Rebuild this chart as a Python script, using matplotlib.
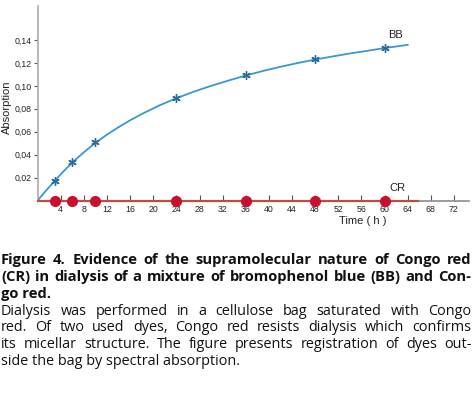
import matplotlib
matplotlib.use("Agg")
import matplotlib.pyplot as plt
from matplotlib.ticker import FixedLocator

W, H, DPI = 472, 395, 100

# BB (bromophenol blue) measured points
bb_t = [3, 6, 10, 24, 36, 48, 60]
bb_abs = [0.0171, 0.0336, 0.0507, 0.0891, 0.1095, 0.1231, 0.1333]

# BB drawn curve
curve_t = [0, 1.5, 3, 4.5, 6, 8, 10, 12, 14, 16, 18, 21, 24, 27, 30, 33,
           36, 39, 42, 45, 48, 51, 54, 57, 60, 62, 64]
curve_abs = [0.0, 0.0090, 0.0174, 0.0256, 0.0332, 0.0421, 0.0503, 0.0575,
             0.0640, 0.0700, 0.0754, 0.0828, 0.0892, 0.0949, 0.1000, 0.1046,
             0.1090, 0.1130, 0.1166, 0.1199, 0.1229, 0.1256, 0.1282, 0.1305,
             0.1329, 0.1343, 0.1357]

# CR (Congo red) measured points - stays at zero
cr_t = [3, 6, 10, 24, 36, 48, 60]
cr_abs = [0, 0, 0, 0, 0, 0, 0]
cr_line_t = [0, 65.7]
cr_line_abs = [0, 0]

y_ticks = [0.02, 0.04, 0.06, 0.08, 0.10, 0.12, 0.14]
y_labels = ["0,02", "0,04", "0,06", "0,08", "0,10", "0,12", "0,14"]
x_ticks = list(range(4, 73, 4))

caption_bold = [
    "Figure 4. Evidence of the supramolecular nature of Congo red",
    "(CR) in dialysis of a mixture of bromophenol blue (BB) and Con-",
    "go red.",
]
caption_text = [
    "Dialysis was performed in a cellulose bag saturated with Congo",
    "red. Of two used dyes, Congo red resists dialysis which confirms",
    "its micellar structure. The figure presents registration of dyes out-",
    "side the bag by spectral absorption.",
]

fig = plt.figure(figsize=(W / DPI, H / DPI), dpi=DPI)

# axes placed in pixels of the reference
ax_l, ax_r, ax_b, ax_t = 37.6, 469.0, 200.6, 5.5
ax = fig.add_axes([ax_l / W, 1 - ax_b / H, (ax_r - ax_l) / W, (ax_b - ax_t) / H])
ax.set_xlim(0, 74.6)
ax.set_ylim(0, 0.17)

for s in ["top", "right"]:
    ax.spines[s].set_visible(False)
ax.spines["left"].set_color("#b5b0aa")
ax.spines["left"].set_linewidth(1.3)
ax.spines["bottom"].set_color("#8c8c8c")
ax.spines["bottom"].set_linewidth(1.2)

ax.plot(curve_t, curve_abs, color="#3a98cc", lw=1.3, zorder=3)
ax.plot(bb_t, bb_abs, ls="none", marker=(6, 2, 0), ms=6, mew=1.0,
        color="#2a6b9c", zorder=4)
ax.plot(cr_line_t, cr_line_abs, color="#c24a40", lw=1.6, zorder=3,
        clip_on=False)
ax.plot(cr_t, cr_abs, ls="none", marker="o", ms=7, color="#c8102e",
        mec="#c8102e", zorder=5, clip_on=False)

ax.yaxis.set_major_locator(FixedLocator(y_ticks))
ax.set_yticklabels(y_labels)
ax.tick_params(axis="y", direction="out", length=3, width=0.8, colors="#555555",
               labelsize=6.3, pad=1, labelcolor="#222222")
ax.xaxis.set_major_locator(FixedLocator(x_ticks))
ax.set_xticklabels([str(v) for v in x_ticks])
ax.tick_params(axis="x", direction="in", length=4, width=0.8, colors="#555555",
               labelsize=6.3, pad=3, labelcolor="#222222")
for lab in ax.get_xticklabels() + ax.get_yticklabels():
    lab.set_family("Liberation Sans")

ax.set_ylabel("Absorption", fontsize=8, family="Liberation Sans",
              color="#222222")
ax.yaxis.set_label_coords(-0.060, 0.48)
ax.text(56.3, -0.0178, "Time ( h )", fontsize=8, family="Liberation Sans",
        ha="center", va="center", color="#222222")
ax.text(60.6, 0.1443, "BB", fontsize=8, family="Liberation Sans",
        ha="left", va="center", color="#222222")
ax.text(60.8, 0.011, "CR", fontsize=8, family="Liberation Sans",
        ha="left", va="center", color="#222222")

# caption, justified by hand
renderer = fig.canvas.get_renderer()
x0, x1 = 1.0, 471.5
family = "Open Sans"


def put_line(words, y_px, weight, size, justify):
    y = 1 - y_px / H
    if not justify:
        fig.text(x0 / W, y, " ".join(words), fontsize=size, family=family,
                 weight=weight, va="baseline", ha="left", color="#111111")
        return
    items = [fig.text(0, y, w, fontsize=size, family=family, weight=weight,
                      va="baseline", ha="left", color="#111111") for w in words]
    widths = [t.get_window_extent(renderer=renderer).width for t in items]
    gap = max(2.0, (x1 - x0 - sum(widths)) / (len(words) - 1))
    x = x0
    for t, w in zip(items, widths):
        t.set_x(x / W)
        x += w + gap


baselines = [264.3, 281.0, 297.8, 314.6, 331.4, 348.2, 365.0]
lines = ([(l, "bold", 10.6) for l in caption_bold]
         + [(l, "normal", 10.4) for l in caption_text])
for i, (line, weight, size) in enumerate(lines):
    last = i in (2, 6)
    put_line(line.split(" "), baselines[i], weight, size, not last)

fig.savefig("out.png", dpi=DPI)
